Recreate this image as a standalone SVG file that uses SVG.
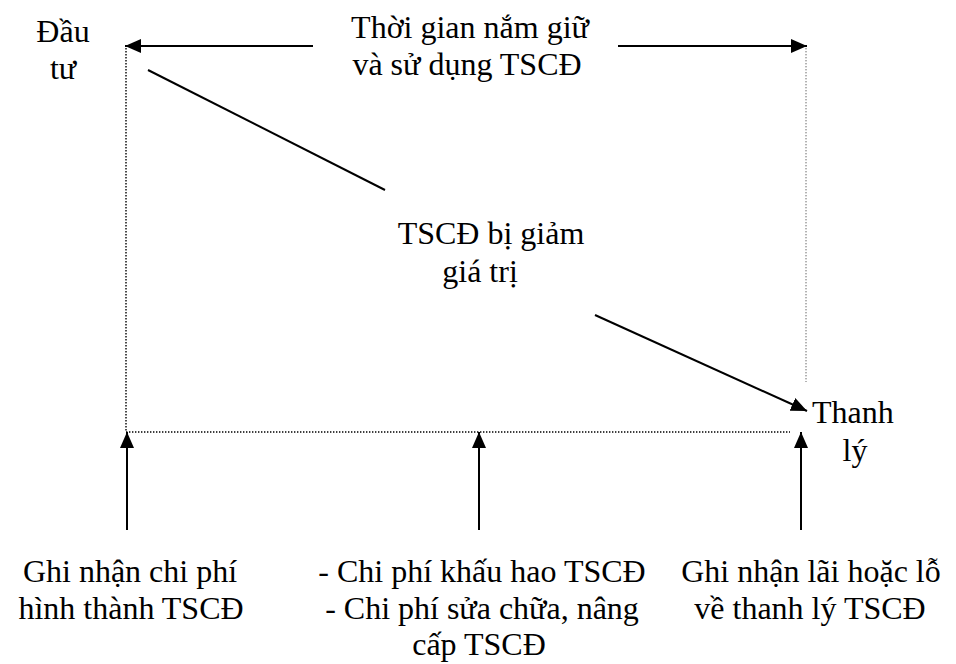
<svg xmlns="http://www.w3.org/2000/svg" width="956" height="664" viewBox="0 0 956 664">
  <style>
    .t { font-family: 'Liberation Serif', Tinos, 'Times New Roman', serif; font-size: 32px; fill: #000; }
    .arrow { stroke: #000; stroke-width: 2; fill: none; }
    .dot { stroke: #000; stroke-width: 1.4; stroke-dasharray: 1.4 1.6; fill: none; }
    .dot-light { stroke: #666; stroke-width: 1; stroke-dasharray: 1.4 1.6; fill: none; }
  </style>
  <defs>
    <marker id="head" viewBox="0 0 16 14" refX="16" refY="7" markerWidth="16" markerHeight="14" markerUnits="userSpaceOnUse" orient="auto">
      <path d="M0,0 L16,7 L0,14 Z" fill="#000"/>
    </marker>
  </defs>

  <rect width="956" height="664" fill="#fff"/>

  <!-- frame and connectors -->
  <g id="connectors">
    <line class="dot" x1="126" y1="48" x2="126" y2="432"/>
    <line class="dot" x1="126" y1="432" x2="790" y2="432"/>
    <line class="dot-light" x1="806" y1="48" x2="806" y2="382"/>

    <line class="arrow" x1="313" y1="46" x2="125" y2="46" marker-end="url(#head)"/>
    <line class="arrow" x1="618" y1="46" x2="807" y2="46" marker-end="url(#head)"/>

    <line class="arrow" x1="148" y1="70" x2="385" y2="190"/>
    <line class="arrow" x1="595" y1="315" x2="807" y2="411" marker-end="url(#head)"/>

    <line class="arrow" x1="127" y1="530" x2="127" y2="432" marker-end="url(#head)"/>
    <line class="arrow" x1="479" y1="530" x2="479" y2="432" marker-end="url(#head)"/>
    <line class="arrow" x1="801" y1="530" x2="801" y2="432" marker-end="url(#head)"/>
  </g>

  <g class="t" text-anchor="middle">
    <g id="dau-tu">
      <text x="63" y="42">Đầu</text>
      <text x="63" y="79">tư</text>
    </g>

    <g id="thoi-gian">
      <text x="470" y="38">Thời gian nắm giữ</text>
      <text x="467" y="75">và sử dụng TSCĐ</text>
    </g>

    <g id="giam-gia-tri">
      <text x="491" y="244">TSCĐ bị giảm</text>
      <text x="480" y="282">giá trị</text>
    </g>

    <g id="thanh-ly">
      <text x="812" y="423" text-anchor="start">Thanh</text>
      <text x="855" y="461">lý</text>
    </g>

    <g id="ghi-nhan-chi-phi">
      <text x="130" y="582">Ghi nhận chi phí</text>
      <text x="131" y="619">hình thành TSCĐ</text>
    </g>

    <g id="chi-phi-su-dung">
      <text x="482" y="582">- Chi phí khấu hao TSCĐ</text>
      <text x="482" y="619">- Chi phí sửa chữa, nâng</text>
      <text x="479" y="655">cấp TSCĐ</text>
    </g>

    <g id="ghi-nhan-lai-lo">
      <text x="811" y="582">Ghi nhận lãi hoặc lỗ</text>
      <text x="810" y="619">về thanh lý TSCĐ</text>
    </g>
  </g>
</svg>
